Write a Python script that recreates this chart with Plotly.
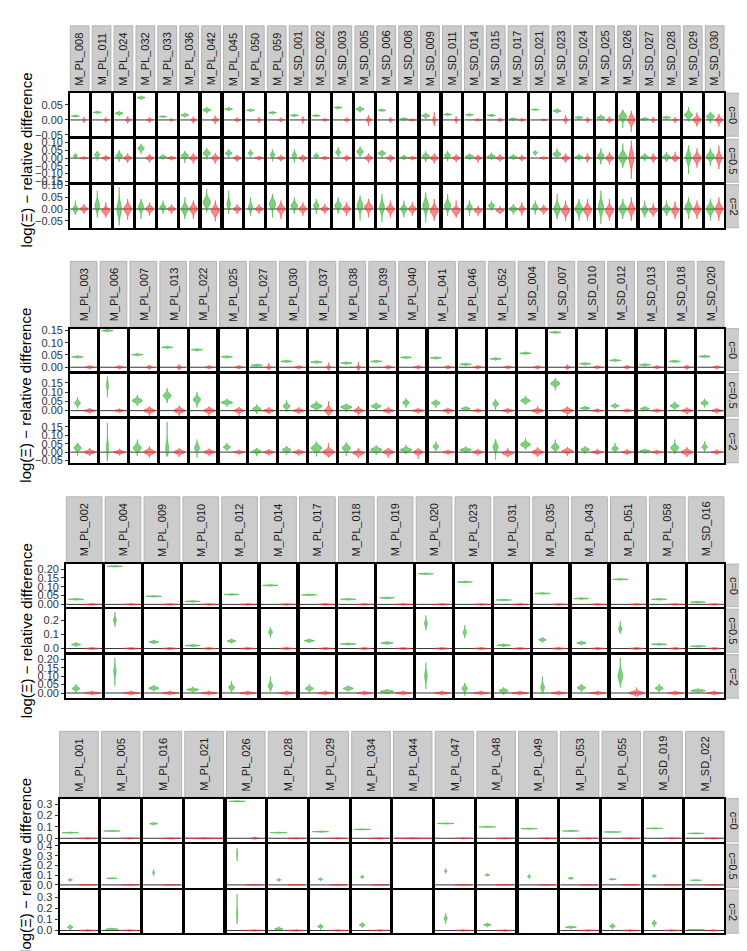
import plotly.graph_objects as go

W, H = 747, 951

# ---------------- data: (low, middle, high) of each violin ----------------
p1_models = ["M_PL_008", "M_PL_011", "M_PL_024", "M_PL_032", "M_PL_033", "M_PL_036",
             "M_PL_042", "M_PL_045", "M_PL_050", "M_PL_059", "M_SD_001", "M_SD_002",
             "M_SD_003", "M_SD_005", "M_SD_006", "M_SD_008", "M_SD_009", "M_SD_011",
             "M_SD_014", "M_SD_015", "M_SD_017", "M_SD_021", "M_SD_023", "M_SD_024",
             "M_SD_025", "M_SD_026", "M_SD_027", "M_SD_028", "M_SD_029", "M_SD_030"]
p1_green_c0 = [(0.009, 0.013, 0.017), (0.020, 0.025, 0.030), (0.014, 0.022, 0.030), (0.067, 0.074, 0.081),
               (0.008, 0.011, 0.014), (0.008, 0.016, 0.024), (0.022, 0.033, 0.043), (0.030, 0.036, 0.042),
               (0.027, 0.032, 0.037), (0.019, 0.024, 0.029), (0.010, 0.015, 0.020), (0.010, 0.014, 0.018),
               (0.036, 0.041, 0.046), (0.025, 0.036, 0.046), (0.027, 0.032, 0.037), (-0.002, 0.003, 0.008),
               (0.004, 0.014, 0.024), (0.013, 0.018, 0.023), (0.012, 0.017, 0.022), (0.010, 0.015, 0.020),
               (-0.002, 0.003, 0.008), (0.031, 0.034, 0.037), (0.022, 0.030, 0.038), (0.002, 0.008, 0.014),
               (-0.002, 0.008, 0.018), (-0.027, 0.011, 0.033), (-0.003, 0.003, 0.009), (0.002, 0.008, 0.014),
               (-0.005, 0.016, 0.043), (-0.011, 0.011, 0.027)]
p1_red_c0 = [(-0.010, 0, 0.010), (-0.010, 0, 0.008), (-0.012, 0, 0.012), (-0.010, 0, 0.010), (-0.006, 0, 0.006),
             (-0.012, 0, 0.012), (-0.014, 0, 0.014), (-0.008, 0, 0.008), (-0.010, 0, 0.010), (-0.008, 0, 0.008),
             (-0.012, 0, 0.012), (-0.006, 0, 0.006), (-0.008, 0, 0.008), (-0.020, 0, 0.016), (-0.010, 0, 0.010),
             (-0.005, 0, 0.005), (-0.020, 0, 0.026), (-0.012, 0, 0.012), (-0.005, 0, 0.005), (-0.007, 0, 0.007),
             (-0.006, 0, 0.006), (-0.004, 0, 0.004), (-0.014, 0, 0.016), (-0.010, 0, 0.010), (-0.012, 0, 0.012),
             (-0.040, 0, 0.030), (-0.010, 0, 0.010), (-0.010, 0, 0.010), (-0.022, 0, 0.025), (-0.022, 0, 0.020)]
p1_green_c05 = [(-0.006, 0.014, 0.031), (-0.016, 0.021, 0.045), (-0.025, 0.014, 0.051), (0.025, 0.062, 0.093),
                (-0.010, 0.008, 0.025), (-0.031, 0.014, 0.045), (-0.010, 0.031, 0.066), (0.004, 0.031, 0.056),
                (0.006, 0.031, 0.056), (-0.021, 0.021, 0.056), (-0.031, 0.016, 0.056), (-0.006, 0.014, 0.035),
                (0.006, 0.037, 0.072), (0.000, 0.041, 0.076), (0.000, 0.031, 0.051), (-0.014, 0.004, 0.021),
                (-0.027, 0.010, 0.047), (-0.021, 0.016, 0.047), (-0.014, 0.010, 0.031), (-0.014, 0.010, 0.035),
                (-0.012, 0.006, 0.025), (0.016, 0.035, 0.051), (0.000, 0.025, 0.062), (-0.016, 0.006, 0.025),
                (-0.041, 0.010, 0.062), (-0.062, 0.004, 0.093), (-0.021, 0.006, 0.031), (-0.025, 0.006, 0.041),
                (-0.103, 0.004, 0.082), (-0.051, 0.010, 0.062)]
p1_red_c05 = [(-0.010, 0, 0.010), (-0.020, 0, 0.020), (-0.031, 0, 0.031), (-0.031, 0, 0.025), (-0.015, 0, 0.015),
              (-0.037, 0, 0.031), (-0.037, 0, 0.031), (-0.025, 0, 0.020), (-0.015, 0, 0.015), (-0.021, 0, 0.021),
              (-0.027, 0, 0.021), (-0.014, 0, 0.014), (-0.021, 0, 0.021), (-0.031, 0, 0.031), (-0.027, 0, 0.021),
              (-0.014, 0, 0.014), (-0.035, 0, 0.031), (-0.027, 0, 0.025), (-0.031, 0, 0.021), (-0.023, 0, 0.025),
              (-0.021, 0, 0.021), (-0.010, 0, 0.010), (-0.031, 0, 0.031), (-0.031, 0, 0.031), (-0.041, 0, 0.041),
              (-0.134, 0, 0.113), (-0.031, 0, 0.031), (-0.025, 0, 0.041), (-0.062, 0, 0.062), (-0.072, 0, 0.082)]
p1_green_c2 = [(-0.024, 0.000, 0.036), (-0.036, 0.014, 0.079), (-0.071, 0.000, 0.093), (-0.043, 0.007, 0.043),
               (-0.021, 0.007, 0.036), (-0.043, 0.000, 0.050), (-0.014, 0.029, 0.086), (-0.021, 0.021, 0.079),
               (-0.029, 0.007, 0.050), (-0.036, 0.021, 0.064), (-0.021, 0.014, 0.050), (-0.021, 0.014, 0.043),
               (-0.021, 0.014, 0.050), (-0.050, 0.014, 0.057), (-0.057, 0.007, 0.064), (-0.036, 0.000, 0.036),
               (-0.057, 0.014, 0.071), (-0.029, 0.014, 0.064), (-0.029, 0.007, 0.036), (-0.007, 0.014, 0.036),
               (-0.024, 0.000, 0.021), (-0.024, 0.007, 0.036), (-0.043, 0.000, 0.064), (-0.050, 0.000, 0.043),
               (-0.064, 0.007, 0.079), (-0.043, 0.000, 0.043), (-0.036, -0.004, 0.036), (-0.029, 0.000, 0.036),
               (-0.043, 0.007, 0.050), (-0.050, 0.000, 0.043)]
p1_red_c2 = [(-0.021, 0, 0.021), (-0.036, -0.007, 0.029), (-0.047, 0, 0.043), (-0.029, 0, 0.029),
             (-0.021, 0, 0.021), (-0.043, 0, 0.036), (-0.053, -0.007, 0.036), (-0.021, 0, 0.021),
             (-0.021, 0, 0.021), (-0.043, 0, 0.036), (-0.029, 0, 0.029), (-0.021, 0, 0.021),
             (-0.029, 0, 0.029), (-0.036, 0.007, 0.043), (-0.036, 0, 0.036), (-0.029, 0, 0.029),
             (-0.050, -0.007, 0.043), (-0.036, -0.007, 0.036), (-0.029, -0.007, 0.014), (-0.021, -0.007, 0.014),
             (-0.029, 0, 0.029), (-0.024, -0.003, 0.019), (-0.050, -0.007, 0.036), (-0.050, -0.004, 0.043),
             (-0.050, -0.007, 0.043), (-0.050, 0, 0.050), (-0.033, -0.007, 0.024), (-0.043, -0.007, 0.033),
             (-0.043, -0.003, 0.036), (-0.050, 0, 0.050)]

p2_models = ["M_PL_003", "M_PL_006", "M_PL_007", "M_PL_013", "M_PL_022", "M_PL_025", "M_PL_027",
             "M_PL_030", "M_PL_037", "M_PL_038", "M_PL_039", "M_PL_040", "M_PL_041", "M_PL_046",
             "M_PL_052", "M_SD_004", "M_SD_007", "M_SD_010", "M_SD_012", "M_SD_013", "M_SD_018", "M_SD_020"]
p2_green_c0 = [(0.036, 0.042, 0.048), (0.143, 0.149, 0.155), (0.045, 0.051, 0.057), (0.075, 0.081, 0.087),
               (0.065, 0.071, 0.077), (0.036, 0.042, 0.048), (0.002, 0.008, 0.014), (0.018, 0.024, 0.030),
               (0.015, 0.021, 0.027), (0.011, 0.017, 0.023), (0.018, 0.024, 0.030), (0.034, 0.040, 0.046),
               (0.032, 0.038, 0.044), (0.006, 0.012, 0.018), (0.028, 0.034, 0.040), (0.051, 0.057, 0.063),
               (0.136, 0.142, 0.148), (0.008, 0.014, 0.020), (0.022, 0.028, 0.034), (0.004, 0.010, 0.016),
               (0.018, 0.024, 0.030), (0.038, 0.044, 0.050)]
p2_red_c0 = [(-0.008, 0, 0.008), (-0.008, 0, 0.008), (-0.010, 0, 0.010), (-0.012, 0, 0.012), (-0.008, 0, 0.008),
             (-0.008, 0, 0.008), (-0.011, 0, 0.017), (-0.008, 0, 0.008), (-0.015, 0, 0.019), (-0.015, 0, 0.022),
             (-0.009, 0, 0.009), (-0.008, 0, 0.008), (-0.008, 0, 0.008), (-0.008, 0, 0.008), (-0.008, 0, 0.008),
             (-0.009, 0, 0.009), (-0.012, 0, 0.012), (-0.008, 0, 0.008), (-0.009, 0, 0.009), (-0.008, 0, 0.008),
             (-0.010, 0, 0.010), (-0.008, 0, 0.008)]
p2_green_c05 = [(0.011, 0.041, 0.072), (0.072, 0.137, 0.187), (0.026, 0.054, 0.085), (0.041, 0.081, 0.122),
                (0.017, 0.059, 0.100), (0.022, 0.044, 0.063), (-0.019, 0.009, 0.033), (-0.007, 0.024, 0.057),
                (-0.004, 0.024, 0.052), (-0.007, 0.019, 0.037), (0.000, 0.024, 0.043), (0.015, 0.043, 0.067),
                (0.015, 0.041, 0.059), (-0.004, 0.011, 0.024), (0.000, 0.037, 0.061), (0.030, 0.054, 0.081),
                (0.109, 0.146, 0.174), (0.000, 0.013, 0.026), (0.011, 0.026, 0.041), (-0.004, 0.011, 0.024),
                (0.000, 0.026, 0.048), (0.017, 0.041, 0.063)]
p2_red_c05 = [(-0.015, 0, 0.015), (-0.011, 0, 0.011), (-0.030, 0, 0.022), (-0.030, 0, 0.026), (-0.030, 0, 0.022),
              (-0.030, 0, 0.017), (-0.019, 0, 0.019), (-0.019, 0, 0.019), (-0.026, 0, 0.052), (-0.026, 0, 0.024),
              (-0.019, 0, 0.019), (-0.015, 0, 0.015), (-0.019, 0, 0.015), (-0.011, 0, 0.011), (-0.015, 0, 0.015),
              (-0.020, 0, 0.022), (-0.030, 0, 0.022), (-0.011, 0, 0.011), (-0.011, 0, 0.011), (-0.011, 0, 0.011),
              (-0.020, 0, 0.017), (-0.015, 0, 0.015)]
p2_green_c2 = [(-0.024, 0.025, 0.055), (-0.053, 0.025, 0.173), (-0.024, 0.025, 0.075), (-0.024, 0.020, 0.180),
               (-0.033, 0.025, 0.075), (0.006, 0.030, 0.055), (-0.025, 0.004, 0.024), (-0.016, 0.014, 0.037),
               (-0.025, 0.024, 0.063), (-0.025, 0.024, 0.057), (-0.016, 0.014, 0.043), (-0.010, 0.014, 0.043),
               (0.004, 0.033, 0.063), (-0.006, 0.014, 0.033), (-0.045, 0.030, 0.076), (0.016, 0.045, 0.084),
               (-0.004, 0.030, 0.075), (-0.010, 0.016, 0.035), (-0.004, 0.020, 0.055), (-0.010, 0.006, 0.020),
               (-0.010, 0.025, 0.075), (0.002, 0.031, 0.065)]
p2_red_c2 = [(-0.024, 0, 0.025), (-0.020, 0, 0.020), (-0.034, 0, 0.035), (-0.030, 0, 0.025), (-0.024, 0, 0.022),
             (-0.014, 0, 0.016), (-0.021, 0, 0.018), (-0.021, 0, 0.018), (-0.030, 0, 0.053), (-0.035, -0.006, 0.024),
             (-0.035, 0, 0.024), (-0.041, 0, 0.020), (-0.016, 0, 0.014), (-0.021, 0, 0.018), (-0.030, -0.006, 0.024),
             (-0.030, 0, 0.030), (-0.024, 0.006, 0.030), (-0.014, 0, 0.020), (-0.014, 0, 0.020), (-0.014, 0, 0.014),
             (-0.030, 0, 0.030), (-0.014, 0, 0.016)]

p3_models = ["M_PL_002", "M_PL_004", "M_PL_009", "M_PL_010", "M_PL_012", "M_PL_014", "M_PL_017",
             "M_PL_018", "M_PL_019", "M_PL_020", "M_PL_023", "M_PL_031", "M_PL_035", "M_PL_043",
             "M_PL_051", "M_PL_058", "M_SD_016"]
p3_green_c0 = [(0.023, 0.029, 0.035), (0.210, 0.216, 0.222), (0.040, 0.046, 0.052), (0.011, 0.017, 0.023),
               (0.050, 0.056, 0.062), (0.102, 0.108, 0.114), (0.048, 0.054, 0.060), (0.023, 0.029, 0.035),
               (0.031, 0.037, 0.043), (0.167, 0.173, 0.179), (0.121, 0.127, 0.133), (0.019, 0.025, 0.031),
               (0.056, 0.062, 0.068), (0.027, 0.033, 0.039), (0.136, 0.142, 0.148), (0.023, 0.029, 0.035),
               (0.007, 0.013, 0.019)]
p3_red_c0 = [(-0.006, 0, 0.006)] * 17
p3_green_c05 = [(0.011, 0.028, 0.044), (0.154, 0.200, 0.257), (0.030, 0.046, 0.062), (0.012, 0.021, 0.030),
                (0.035, 0.053, 0.071), (0.074, 0.115, 0.149), (0.039, 0.055, 0.069), (0.023, 0.032, 0.041),
                (0.025, 0.039, 0.050), (0.126, 0.177, 0.234), (0.074, 0.115, 0.166), (0.011, 0.023, 0.034),
                (0.039, 0.062, 0.080), (0.023, 0.039, 0.055), (0.103, 0.138, 0.195), (0.021, 0.030, 0.039),
                (0.007, 0.016, 0.023)]
p3_red_c05 = [(-0.010, 0, 0.010)] * 17
p3_green_c2 = [(0.000, 0.027, 0.053), (0.043, 0.130, 0.210), (0.008, 0.029, 0.047), (0.004, 0.020, 0.037),
               (0.000, 0.033, 0.072), (0.008, 0.043, 0.098), (0.004, 0.027, 0.053), (0.008, 0.027, 0.047),
               (-0.006, 0.010, 0.024), (0.024, 0.102, 0.180), (-0.016, 0.027, 0.059), (-0.012, 0.014, 0.033),
               (-0.006, 0.033, 0.098), (0.004, 0.031, 0.053), (0.033, 0.102, 0.210), (0.004, 0.029, 0.053),
               (0.000, 0.014, 0.027)]
p3_red_c2 = [(-0.013, 0, 0.013)] * 14 + [(-0.020, 0, 0.033), (-0.013, 0, 0.013), (-0.013, 0, 0.013)]

p4_models = ["M_PL_001", "M_PL_005", "M_PL_016", "M_PL_021", "M_PL_026", "M_PL_028", "M_PL_029",
             "M_PL_034", "M_PL_044", "M_PL_047", "M_PL_048", "M_PL_049", "M_PL_053", "M_PL_055",
             "M_SD_019", "M_SD_022"]
p4_green_c0 = [(0.042, 0.049, 0.056), (0.057, 0.064, 0.071), (0.114, 0.128, 0.142), None,
               (0.318, 0.325, 0.332), (0.042, 0.049, 0.056), (0.051, 0.058, 0.065), (0.071, 0.078, 0.085),
               None, (0.123, 0.130, 0.137), (0.093, 0.100, 0.107), (0.077, 0.084, 0.091),
               (0.057, 0.064, 0.071), (0.048, 0.055, 0.062), (0.080, 0.087, 0.094), (0.036, 0.043, 0.050)]
p4_red_c0 = [(-0.007, 0, 0.007)] * 4 + [(-0.010, 0, 0.014)] + [(-0.007, 0, 0.007)] * 11
p4_green_c05 = [(0.034, 0.051, 0.068), (0.061, 0.068, 0.075), (0.092, 0.126, 0.160), None,
                (0.245, 0.320, 0.380), (0.034, 0.051, 0.068), (0.041, 0.058, 0.075), (0.061, 0.082, 0.102),
                None, (0.116, 0.143, 0.170), (0.088, 0.102, 0.116), (0.064, 0.085, 0.109),
                (0.054, 0.068, 0.082), (0.048, 0.058, 0.068), (0.075, 0.092, 0.109), (0.041, 0.048, 0.054)]
p4_red_c05 = [(-0.0045, 0, 0.0045)] * 3 + [None] + [(-0.0045, 0, 0.0045)] * 4 + [None] \
    + [(-0.0045, 0, 0.0045)] * 7
p4_green_c2 = [(0.000, 0.030, 0.054), (0.000, 0.012, 0.024), None, None,
               (0.060, 0.150, 0.330), (0.000, 0.015, 0.036), (0.006, 0.036, 0.060), (0.024, 0.051, 0.075),
               None, (0.060, 0.111, 0.156), (0.030, 0.051, 0.069), None,
               (0.015, 0.030, 0.042), (0.012, 0.039, 0.066), (0.030, 0.066, 0.096), (0.000, 0.006, 0.012)]
p4_red_c2 = [(-0.009, 0, 0.009)] * 2 + [None, None] + [(-0.009, 0, 0.009)] * 4 + [None] \
    + [(-0.009, 0, 0.009)] * 2 + [None] + [(-0.009, 0, 0.009)] * 4

row_labels = ["c=0", "c=0.5", "c=2"]

panels = [
    (p1_models, [(p1_green_c0, p1_red_c0), (p1_green_c05, p1_red_c05), (p1_green_c2, p1_red_c2)]),
    (p2_models, [(p2_green_c0, p2_red_c0), (p2_green_c05, p2_red_c05), (p2_green_c2, p2_red_c2)]),
    (p3_models, [(p3_green_c0, p3_red_c0), (p3_green_c05, p3_red_c05), (p3_green_c2, p3_red_c2)]),
    (p4_models, [(p4_green_c0, p4_red_c0), (p4_green_c05, p4_red_c05), (p4_green_c2, p4_red_c2)]),
]

# ---------------- layout of each stacked ggplot-like panel (pixels) ----------------
specs = [
    dict(x0=62.3, strip=(13, 79.5), rows=[(81, 124.5), (127.5, 171), (173.5, 217)],
         ranges=[(-0.054, 0.089), (-0.156, 0.122), (-0.080, 0.104)], dt=[0.05, 0.05, 0.05],
         fmt=[".2f", ".2f", ".2f"]),
    dict(x0=62.3, strip=(251, 317.5), rows=[(319, 361.5), (364.5, 407.5), (410.5, 454.5)],
         ranges=[(-0.014, 0.157), (-0.030, 0.199), (-0.063, 0.196)], dt=[0.05, 0.05, 0.05],
         fmt=[".2f", ".2f", ".2f"]),
    dict(x0=58.3, strip=(489, 555.5), rows=[(557, 600), (602.5, 646), (648.5, 692.5)],
         ranges=[(-0.013, 0.228), (-0.026, 0.278), (-0.031, 0.228)], dt=[0.05, 0.1, 0.05],
         fmt=[".2f", ".1f", ".2f"]),
    dict(x0=51.7, strip=(726, 792.5), rows=[(794, 837.5), (840, 884), (886.5, 930)],
         ranges=[(-0.030, 0.348), (-0.029, 0.418), (-0.025, 0.367)], dt=[0.1, 0.1, 0.1],
         fmt=[".1f", ".1f", ".1f"]),
]

X_END, GAP = 716.0, 3.2
GREEN = ("rgba(40,175,40,0.6)", "rgba(40,170,40,0.7)")
RED = ("rgba(245,55,55,0.6)", "rgba(240,45,45,0.7)")
FONT = "Liberation Sans, Arial, sans-serif"
STRIP_FILL, STRIP_LINE = "#cccccc", "#b3b3b3"


def px(x):
    return x / W


def py(y):
    return 1 - y / H


def violin(pos, v, colors, xa, ya, group, width=None):
    lo, mid, hi = v
    kw = dict(scalegroup=group, scalemode="width") if width is None else dict(width=width)
    return go.Violin(x=[pos], y=[mid], xaxis=xa, yaxis=ya, bandwidth=max((hi - lo) / 6.5, 1e-4),
                     spanmode="manual", span=[lo, hi], fillcolor=colors[0],
                     line=dict(color=colors[1], width=0.7), points=False, hoverinfo="skip",
                     showlegend=False, **kw)


fig = go.Figure()
layout = {}
shapes, annotations = [], []
k = 0
for pi, ((models, rows), sp) in enumerate(zip(panels, specs)):
    n = len(models)
    cw = (X_END - sp["x0"] - GAP * (n - 1)) / n
    for ci, name in enumerate(models):
        xl = sp["x0"] + ci * (cw + GAP)
        shapes.append(dict(type="rect", xref="paper", yref="paper", x0=px(xl), x1=px(xl + cw),
                           y0=py(sp["strip"][1]), y1=py(sp["strip"][0]), fillcolor=STRIP_FILL,
                           line=dict(color=STRIP_LINE, width=1), layer="below"))
        annotations.append(dict(text=name, xref="paper", yref="paper", x=px(xl + cw / 2),
                                y=py(sp["strip"][1] - 4), xanchor="center", yanchor="bottom",
                                textangle=-90, showarrow=False,
                                font=dict(size=11, color="#1a1a1a", family=FONT)))
    for ri, (greens, reds) in enumerate(rows):
        top, bot = sp["rows"][ri]
        shapes.append(dict(type="rect", xref="paper", yref="paper", x0=px(X_END + 1.5), x1=px(X_END + 17.5),
                           y0=py(bot), y1=py(top), fillcolor=STRIP_FILL,
                           line=dict(color=STRIP_LINE, width=1), layer="below"))
        annotations.append(dict(text=row_labels[ri], xref="paper", yref="paper", x=px(X_END + 9.5),
                                y=py((top + bot) / 2), xanchor="center", yanchor="middle",
                                textangle=90, showarrow=False,
                                font=dict(size=11, color="#1a1a1a", family=FONT)))
        for ci in range(n):
            k += 1
            sfx = "" if k == 1 else str(k)
            xa, ya = "x" + sfx, "y" + sfx
            xl = sp["x0"] + ci * (cw + GAP)
            layout["xaxis" + sfx] = dict(domain=[px(xl), px(xl + cw)], anchor=ya, range=[0.4, 2.6],
                                         showticklabels=False, ticks="", showgrid=False, zeroline=False,
                                         showline=True, mirror=True, linecolor="black", linewidth=2.4,
                                         fixedrange=True)
            lo_r, hi_r = sp["ranges"][ri]
            layout["yaxis" + sfx] = dict(domain=[py(bot), py(top)], anchor=xa, range=[lo_r, hi_r],
                                         dtick=sp["dt"][ri], tick0=0, tickformat=sp["fmt"][ri],
                                         showticklabels=(ci == 0), ticks="outside" if ci == 0 else "",
                                         ticklen=3, tickcolor="#333333", tickwidth=1,
                                         tickfont=dict(size=11, color="#333333", family=FONT),
                                         showgrid=False, zeroline=False, showline=True, mirror=True,
                                         linecolor="black", linewidth=2.4, fixedrange=True)
            g, r = greens[ci], reds[ci]
            group = f"p{pi}r{ri}c{ci}"
            # empty trace so that every facet frame is drawn, even without data
            fig.add_trace(go.Scatter(x=[None], y=[None], xaxis=xa, yaxis=ya, mode="markers",
                                     hoverinfo="skip", showlegend=False))
            if g is not None or r is not None:
                shapes.append(dict(type="line", xref=xa + " domain", yref=ya, x0=0, x1=1, y0=0, y1=0,
                                   line=dict(color="rgba(20,20,20,0.85)", width=1), layer="below"))
            if g is not None:
                fig.add_trace(violin(1, g, GREEN, xa, ya, group))
            if r is not None:
                if g is None:
                    fig.add_trace(violin(1.5, r, RED, xa, ya, group, width=2.1))
                else:
                    fig.add_trace(violin(2, r, RED, xa, ya, group))
    ytop, ybot = sp["rows"][0][0], sp["rows"][2][1]
    annotations.append(dict(text="log(Ξ) − relative difference", xref="paper", yref="paper",
                            x=px(18), y=py((ytop + ybot) / 2), xanchor="center", yanchor="middle",
                            textangle=-90, showarrow=False,
                            font=dict(size=15, color="black", family=FONT)))

fig.update_layout(width=W, height=H, margin=dict(l=0, r=0, t=0, b=0),
                  paper_bgcolor="white", plot_bgcolor="white", showlegend=False,
                  violinmode="overlay", violingap=0.05, violingroupgap=0,
                  shapes=shapes, annotations=annotations, **layout)
fig.write_html("out.html")
